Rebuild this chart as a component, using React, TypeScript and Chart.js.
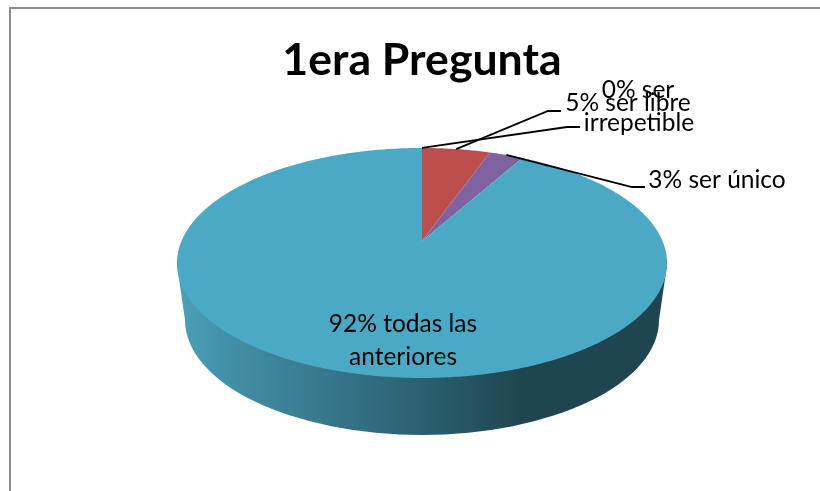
import React, { useEffect, useRef } from "react";
import { Chart, registerables } from "chart.js";

Chart.register(...registerables);

const categories = ["ser irrepetible", "ser libre", "ser único", "todas las anteriores"];
const values = [0, 5.4, 2.7, 91.9];
const colors = ["#4F81BD", "#BC4E4C", "#7F62A0", "#4AA9C4"];
const titleText = "1era Pregunta";
const labelLines = [["0% ser", "irrepetible"], ["5% ser libre"], ["3% ser único"], ["92% todas las", "anteriores"]];

const FONT = "Lato, Carlito, sans-serif";
const APEX = { x: 422, y: 241 };
const K = 0.191, A = 110.8, B = 240.5;

// chart.js angle -PI/2 is the top of the pie; a clockwise sweep moves to the right
const project = (angle: number) => {
  const u = Math.sin(angle + Math.PI / 2);
  const v = Math.cos(angle + Math.PI / 2);
  const d = 1 + K * v;
  return { x: APEX.x + (B * u) / d, y: APEX.y - (A * v) / d };
};

const depthPlugin = {
  id: "pie3d",
  beforeDatasetDraw(chart: any) {
    const ctx = chart.ctx as CanvasRenderingContext2D;
    ctx.save();
    // frame
    ctx.strokeStyle = "#8C8C8C";
    ctx.lineWidth = 2;
    ctx.beginPath();
    ctx.moveTo(10, 491);
    ctx.lineTo(10, 8);
    ctx.lineTo(820, 8);
    ctx.stroke();

    // side wall
    const g = ctx.createLinearGradient(177, 0, 667, 0);
    g.addColorStop(0, "#4AA2BB");
    g.addColorStop(0.1, "#4390A8");
    g.addColorStop(0.3, "#37788C");
    g.addColorStop(0.5, "#2B6070");
    g.addColorStop(0.7, "#1F4650");
    g.addColorStop(1, "#1F4650");
    ctx.fillStyle = g;
    ctx.beginPath();
    ctx.moveTo(177, 265);
    ctx.lineTo(185, 320);
    ctx.ellipse(422, 320, 237, 115, 0, Math.PI, 0, true);
    ctx.lineTo(667, 265);
    ctx.closePath();
    ctx.fill();

    // top face, one slice per arc element
    const arcs = chart.getDatasetMeta(0).data;
    arcs.forEach((arc: any, i: number) => {
      const { startAngle, endAngle } = arc;
      if (endAngle - startAngle < 1e-4) return;
      ctx.fillStyle = colors[i];
      ctx.beginPath();
      ctx.moveTo(APEX.x, APEX.y);
      const steps = Math.max(4, Math.ceil((endAngle - startAngle) / 0.01));
      for (let s = 0; s <= steps; s++) {
        const p = project(startAngle + ((endAngle - startAngle) * s) / steps);
        ctx.lineTo(p.x, p.y);
      }
      ctx.closePath();
      ctx.fill();
    });
    ctx.restore();
    return false;
  },
  afterDatasetsDraw(chart: any) {
    const ctx = chart.ctx as CanvasRenderingContext2D;
    const arcs = chart.getDatasetMeta(0).data;
    const mid = (i: number) => project((arcs[i].startAngle + arcs[i].endAngle) / 2);
    ctx.save();
    ctx.strokeStyle = "#000";
    ctx.lineWidth = 1.8;
    const leaders: [number, number, number, number][] = [
      [0, 567, 127, 580],
      [1, 548, 111, 561],
      [2, 632, 187, 645],
    ];
    leaders.forEach(([i, ex, ey, tx]) => {
      const p = mid(i);
      ctx.beginPath();
      ctx.moveTo(p.x, p.y);
      ctx.lineTo(ex, ey);
      ctx.lineTo(tx, ey);
      ctx.stroke();
    });
    ctx.fillStyle = "#000";
    ctx.textBaseline = "middle";
    ctx.textAlign = "center";
    ctx.font = `24.5px ${FONT}`;
    ctx.fillText(labelLines[0][0], 638, 90);
    ctx.fillText(labelLines[0][1], 639, 123);
    ctx.fillText(labelLines[1][0], 628, 103);
    ctx.fillText(labelLines[2][0], 717, 180);
    ctx.fillText(labelLines[3][0], 403, 324);
    ctx.fillText(labelLines[3][1], 403, 357);
    ctx.restore();
  },
};

export default function App() {
  const ref = useRef<HTMLCanvasElement>(null);
  useEffect(() => {
    const chart = new Chart(ref.current!, {
      type: "pie",
      data: {
        labels: categories,
        datasets: [{ data: values, backgroundColor: colors, borderWidth: 0 }],
      },
      options: {
        responsive: false,
        animation: false,
        events: [],
        layout: { padding: { left: 24 } },
        plugins: {
          legend: { display: false },
          tooltip: { enabled: false },
          title: {
            display: true,
            text: titleText,
            color: "#000",
            font: { family: FONT, size: 44.6, weight: "bold" },
            padding: { top: 34, bottom: 0 },
          },
        },
      },
      plugins: [depthPlugin],
    } as any);
    return () => chart.destroy();
  }, []);
  return (
    <div style={{ position: "fixed", left: 0, top: 0, width: 820, height: 491, background: "#fff" }}>
      <canvas ref={ref} width={820} height={491} style={{ display: "block" }} />
    </div>
  );
}
